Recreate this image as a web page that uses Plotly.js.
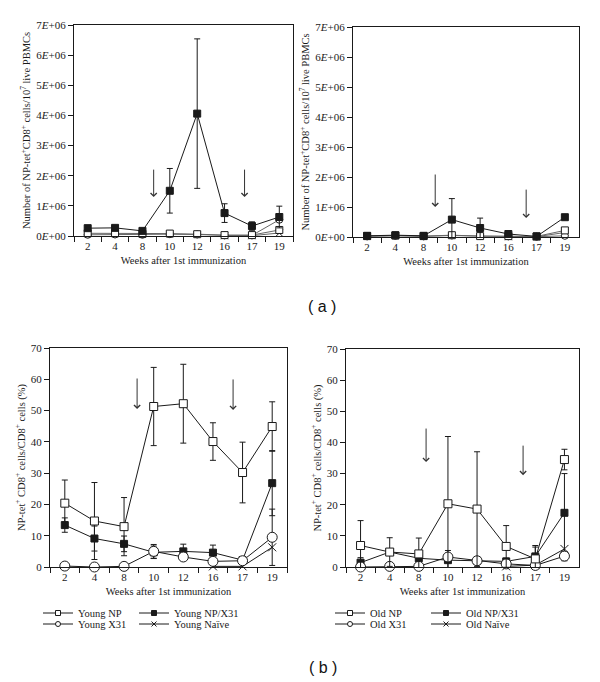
<!DOCTYPE html>
<html>
<head>
<meta charset="utf-8">
<script src="https://cdn.plot.ly/plotly-3.0.1.min.js"></script>
<style>html,body{margin:0;padding:0;background:#fff;}#chart{width:600px;height:682px;}</style>
</head>
<body>
<div id="chart"></div>
<script>
// ---------- categories ----------
const weeks = ["2", "4", "8", "10", "12", "16", "17", "19"];

// ---------- panel (a): counts per 10^7 live PBMCs ----------
const youngNPX31Count    = [2.6e5, 2.7e5, 1.7e5, 1.50e6, 4.06e6, 7.6e5, 3.3e5, 6.3e5];
const youngNPX31CountErr = [0.3e5, 0.3e5, 0.2e5, 7.4e5, 2.48e6, 3.1e5, 1.4e5, 3.6e5];
const youngNPCount       = [9e4, 9e4, 7e4, 8e4, 6e4, 3e4, 3e4, 2.0e5];
const youngX31Count      = [4e4, 5e4, 4e4, 6e4, 5e4, 2e4, 2e4, 5.4e5];
const youngNaiveCount    = [null, null, null, null, null, 1e4, 1e4, 1.0e5];

const oldNPX31Count    = [4e4, 6e4, 4e4, 5.8e5, 3.0e5, 1.0e5, 2e4, 6.6e5];
const oldNPX31CountErr = [1e4, 1e4, 1e4, 7.0e5, 3.3e5, 1e4, 1e4, 1e4];
const oldNPCount       = [3e4, 5e4, 3e4, 6e4, 3e4, 3e4, 2e4, 2.2e5];
const oldX31Count      = [2e4, 4e4, 2e4, 5e4, 3e4, 2e4, 1e4, 4e4];
const oldNaiveCount    = [null, null, null, null, null, 1e4, 1e4, 1.5e5];

const countTickVals = [0, 1e6, 2e6, 3e6, 4e6, 5e6, 6e6, 7e6];
const countTickText = ["0<i>E</i>+00", "1<i>E</i>+06", "2<i>E</i>+06", "3<i>E</i>+06",
                       "4<i>E</i>+06", "5<i>E</i>+06", "6<i>E</i>+06", "7<i>E</i>+06"];

// ---------- panel (b): % of CD8+ cells ----------
const youngNP       = [20.4, 14.7, 12.9, 51.3, 52.2, 40.1, 30.2, 44.9];
const youngNPErr    = [7.4, 12.3, 9.3, 12.5, 12.6, 6.0, 9.7, 7.9];
const youngNPX31    = [13.4, 9.1, 7.4, 4.7, 5.0, 4.6, 2.2, 26.8];
const youngNPX31Err = [2.3, 4.0, 2.5, 2.0, 2.3, 2.4, 1.0, 10.4];
const youngX31      = [0.3, 0.0, 0.2, 5.0, 3.2, 1.8, 2.0, 9.5];
const youngX31Err   = [0, 0, 0, 2.2, 0.5, 0.5, 0.5, 9.0];
const youngNaive    = [null, null, null, null, null, 0.2, 0.2, 6.3];

const oldNP       = [6.9, 4.8, 4.2, 20.3, 18.6, 6.6, 2.6, 34.5];
const oldNPErr    = [8.0, 4.6, 5.1, 21.6, 18.4, 6.7, 4.3, 3.3];
const oldNPX31    = [1.4, 4.8, 2.8, 2.2, 2.0, 1.8, 3.4, 17.4];
const oldNPX31Err = [1.6, 1.0, 1.0, 3.1, 1.2, 1.0, 3.0, 12.6];
const oldX31      = [0.0, 0.2, 0.2, 3.2, 2.0, 1.0, 0.5, 3.5];
const oldX31Err   = [0, 0, 0, 0, 0, 0, 0, 1.5];
const oldNaive    = [null, null, null, null, null, 0.2, 0.6, 5.8];

// legend labels
const youngLabels = ["Young NP", "Young NP/X31", "Young X31", "Young Naïve"];
const oldLabels   = ["Old NP", "Old NP/X31", "Old X31", "Old Naïve"];

// ---------- styles ----------
const ink = '#1a1a1a';
const serif = 'Liberation Serif, Times New Roman, serif';
function err(arr) {
  return {type: 'data', array: arr, symmetric: true, color: ink, thickness: 1, width: 3};
}
function filledSq(size) { return {symbol: 'square', size: size, color: ink, line: {color: ink, width: 1}}; }
function openSq(size) { return {symbol: 'square', size: size, color: 'white', line: {color: ink, width: 1}}; }
function openCirc(size) { return {symbol: 'circle', size: size, color: 'white', line: {color: ink, width: 1}}; }
function xMark(size) { return {symbol: 'x-thin', size: size, color: ink, line: {color: ink, width: 1}}; }

function tr(name, y, e, marker, xa, ya, lineColor) {
  const t = {
    type: 'scatter', mode: 'lines+markers', name: name, x: weeks, y: y,
    xaxis: xa, yaxis: ya, marker: marker,
    line: {color: lineColor || ink, width: 1},
    cliponaxis: false, showlegend: false, connectgaps: false
  };
  if (e) t.error_y = err(e);
  return t;
}
// legend-only entries (a single empty point, nothing drawn), small symbols like the reference key
function key(name, marker, xa, ya, legend) {
  return {
    type: 'scatter', mode: 'lines+markers', name: name, x: [weeks[0]], y: [null],
    xaxis: xa, yaxis: ya, marker: marker, line: {color: ink, width: 1},
    showlegend: true, legend: legend
  };
}

const data = [
  // (a) left: young
  tr(youngLabels[3], youngNaiveCount, null, xMark(7), 'x', 'y', '#666'),
  tr(youngLabels[2], youngX31Count, null, openCirc(7), 'x', 'y', '#666'),
  tr(youngLabels[0], youngNPCount, null, openSq(7), 'x', 'y', '#666'),
  tr(youngLabels[1], youngNPX31Count, youngNPX31CountErr, filledSq(7), 'x', 'y'),
  // (a) right: old
  tr(oldLabels[3], oldNaiveCount, null, xMark(7), 'x2', 'y2', '#666'),
  tr(oldLabels[2], oldX31Count, null, openCirc(7), 'x2', 'y2', '#666'),
  tr(oldLabels[0], oldNPCount, null, openSq(7), 'x2', 'y2', '#666'),
  tr(oldLabels[1], oldNPX31Count, oldNPX31CountErr, filledSq(7), 'x2', 'y2'),
  // (b) left: young
  tr(youngLabels[3], youngNaive, null, xMark(8), 'x3', 'y3'),
  tr(youngLabels[1], youngNPX31, youngNPX31Err, filledSq(7), 'x3', 'y3'),
  tr(youngLabels[2], youngX31, youngX31Err, openCirc(10), 'x3', 'y3'),
  tr(youngLabels[0], youngNP, youngNPErr, openSq(8), 'x3', 'y3'),
  // (b) right: old
  tr(oldLabels[3], oldNaive, null, xMark(8), 'x4', 'y4'),
  tr(oldLabels[1], oldNPX31, oldNPX31Err, filledSq(7), 'x4', 'y4'),
  tr(oldLabels[2], oldX31, oldX31Err, openCirc(10), 'x4', 'y4'),
  tr(oldLabels[0], oldNP, oldNPErr, openSq(8), 'x4', 'y4'),
  // keys
  key(youngLabels[0], openSq(5), 'x3', 'y3', 'legend'),
  key(youngLabels[1], filledSq(5), 'x3', 'y3', 'legend2'),
  key(youngLabels[2], openCirc(5), 'x3', 'y3', 'legend3'),
  key(youngLabels[3], xMark(5), 'x3', 'y3', 'legend4'),
  key(oldLabels[0], openSq(5), 'x4', 'y4', 'legend5'),
  key(oldLabels[1], filledSq(5), 'x4', 'y4', 'legend6'),
  key(oldLabels[2], openCirc(5), 'x4', 'y4', 'legend7'),
  key(oldLabels[3], xMark(5), 'x4', 'y4', 'legend8')
];

const W = 600, H = 682;
function px(v) { return v / W; }
function py(v) { return 1 - v / H; }

function xAxis(l, r, anchor) {
  return {
    domain: [px(l), px(r)], anchor: anchor, type: 'category',
    categoryorder: 'array', categoryarray: weeks, range: [-0.5, 7.5],
    tickson: 'boundaries', ticks: 'outside', ticklen: 5, tickcolor: ink, tickwidth: 1,
    showline: true, mirror: true, linecolor: ink, linewidth: 1,
    showgrid: false, zeroline: false,
    tickfont: {family: serif, size: 11, color: ink},
    title: {text: 'Weeks after 1st immunization', font: {family: serif, size: 10.5, color: ink}, standoff: 5}
  };
}
function yAxis(t, b, anchor, range, extra, title) {
  return Object.assign({
    domain: [py(b), py(t)], anchor: anchor, range: range,
    ticks: 'outside', ticklen: 5, tickcolor: ink, tickwidth: 1,
    showline: true, mirror: true, linecolor: ink, linewidth: 1,
    showgrid: false, zeroline: false,
    tickfont: {family: serif, size: 11, color: ink},
    title: {text: title, font: {family: serif, size: 10.5, color: ink}, standoff: 3}
  }, extra);
}

const countTitle = 'Number of NP-tet<sup>+</sup>CD8<sup>+</sup> cells/10<sup>7</sup> live PBMCs';
const pctTitle = 'NP-tet<sup>+</sup> CD8<sup>+</sup> cells/CD8<sup>+</sup> cells (%)';

function legendAt(xl, yc) {
  return {
    x: px(xl), y: py(yc), xanchor: 'left', yanchor: 'middle',
    bgcolor: 'rgba(0,0,0,0)', borderwidth: 0, itemwidth: 30,
    font: {family: serif, size: 10.5, color: ink}, orientation: 'v'
  };
}

function arrow(xref, yref, xi, yv, len) {
  return {xref: xref, yref: yref, x: xi, y: yv, ax: 0, ay: -len, axref: 'pixel', ayref: 'pixel',
          text: '', showarrow: true, arrowhead: 4, arrowsize: 1.2, arrowwidth: 1, arrowcolor: '#333'};
}

const layout = {
  width: W, height: H,
  margin: {l: 0, r: 0, t: 0, b: 0},
  paper_bgcolor: 'white', plot_bgcolor: 'white',
  font: {family: serif, size: 10, color: ink},
  xaxis: xAxis(74, 293, 'y'),
  yaxis: yAxis(25, 236, 'x', [0, 7e6], {tickmode: 'array', tickvals: countTickVals, ticktext: countTickText}, countTitle),
  xaxis2: xAxis(353, 579, 'y2'),
  yaxis2: yAxis(27, 237, 'x2', [0, 7e6], {tickmode: 'array', tickvals: countTickVals, ticktext: countTickText}, countTitle),
  xaxis3: xAxis(50, 287, 'y3'),
  yaxis3: yAxis(348, 567, 'x3', [0, 70], {dtick: 10, tick0: 0}, pctTitle),
  xaxis4: xAxis(346, 579, 'y4'),
  yaxis4: yAxis(349, 567, 'x4', [0, 70], {dtick: 10, tick0: 0}, pctTitle),
  legend: legendAt(38, 613),
  legend2: legendAt(134, 613),
  legend3: legendAt(38, 624),
  legend4: legendAt(134, 624),
  legend5: legendAt(330, 613),
  legend6: legendAt(426, 613),
  legend7: legendAt(330, 624),
  legend8: legendAt(426, 624),
  annotations: [
    arrow('x', 'y', 2.41, 1.29e6, 29),
    arrow('x', 'y', 5.73, 1.29e6, 29),
    arrow('x2', 'y2', 2.41, 1.0e6, 34),
    arrow('x2', 'y2', 5.63, 0.63e6, 30),
    arrow('x3', 'y3', 2.44, 50.5, 32),
    arrow('x3', 'y3', 5.68, 50.2, 32),
    arrow('x4', 'y4', 2.25, 33.7, 35),
    arrow('x4', 'y4', 5.58, 29.5, 31),
    {xref: 'paper', yref: 'paper', x: px(322), y: py(306), text: '( a )', showarrow: false,
     xanchor: 'center', yanchor: 'middle', font: {family: 'Liberation Sans, Arial, sans-serif', size: 16, color: '#111'}},
    {xref: 'paper', yref: 'paper', x: px(323), y: py(667), text: '( b )', showarrow: false,
     xanchor: 'center', yanchor: 'middle', font: {family: 'Liberation Sans, Arial, sans-serif', size: 16, color: '#111'}}
  ]
};

Plotly.newPlot('chart', data, layout, {displayModeBar: false, staticPlot: true});
</script>
</body>
</html>
